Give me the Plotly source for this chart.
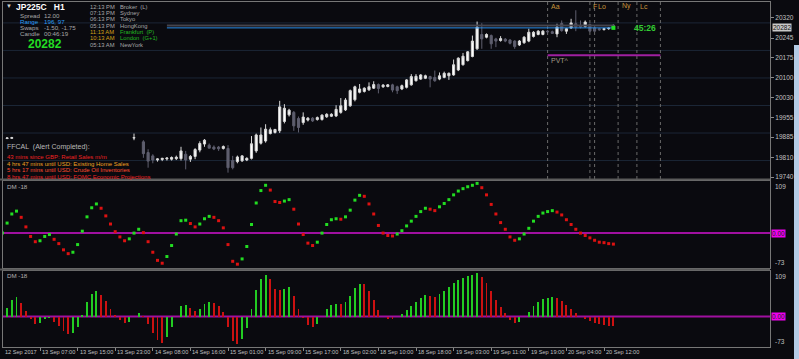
import plotly.graph_objects as go

W, H = 799, 359
ML, MR, MT, MB = 3, 29, 2, 12
PW = W - ML - MR
PH = H - MT - MB
X0, DX = 2.4, 4.7   # pixel of bar 0 and bar spacing


def px(x):
    return (x - ML) / PW


def py(y):
    return (H - MB - y) / PH


BG = "#0a0a0f"
FONT = "Liberation Sans"

# ---------------- data ----------------
tick_labels = ["12 Sep 2017", "13 Sep 07:00", "13 Sep 15:00", "13 Sep 23:00", "14 Sep 08:00",
               "14 Sep 16:00", "15 Sep 01:00", "15 Sep 09:00", "15 Sep 17:00", "18 Sep 02:00",
               "18 Sep 10:00", "18 Sep 18:00", "19 Sep 03:00", "19 Sep 11:00", "19 Sep 19:00",
               "20 Sep 04:00", "20 Sep 12:00"]
tick_step = 8

N = None
ohlc = [
    (N, N, N, N), (19880, 19884, 19878, 19882), (19881, 19886, 19879, 19883),
] + [(N, N, N, N)] * 25 + [
    (19882, 19898, 19874, 19883), (N, N, N, N),
    (19868, 19874, 19810, 19825), (19829, 19841, 19774, 19798), (19817, 19823, 19790, 19802),
    (19802, 19808, 19796, 19806), (19804, 19810, 19798, 19808), (19806, 19812, 19800, 19809),
    (19805, 19815, 19800, 19811), (19807, 19818, 19802, 19812), (19807, 19850, 19800, 19835),
    (19823, 19835, 19768, 19802), (19805, 19820, 19795, 19815), (19815, 19845, 19805, 19840),
    (19838, 19870, 19830, 19862), (19860, 19878, 19850, 19874), (19856, 19862, 19848, 19845),
    (19849, 19855, 19838, 19842), (19849, 19853, 19835, 19843), (19844, 19855, 19840, 19851),
    (19844, 19856, 19756, 19774), (19800, 19817, 19768, 19774), (19796, 19818, 19790, 19813),
    (19799, 19820, 19795, 19817), (19802, 19812, 19798, 19808), (19808, 19889, 19804, 19861),
    (19835, 19898, 19828, 19893), (19863, 19920, 19858, 19893), (19871, 19932, 19865, 19914),
    (19898, 19920, 19895, 19912), (19902, 19915, 19898, 19913), (19908, 20017, 19900, 19995),
    (19942, 20005, 19935, 19990), (19966, 19988, 19960, 19983), (19975, 19980, 19908, 19926),
    (19953, 19960, 19902, 19920), (19938, 19975, 19930, 19958), (19947, 19958, 19942, 19954),
    (19954, 19958, 19940, 19944), (19949, 19960, 19945, 19956), (19949, 19968, 19945, 19965),
    (19959, 19972, 19955, 19968), (19961, 19972, 19958, 19968), (19962, 20001, 19958, 19986),
    (19975, 20027, 19970, 19999), (19984, 20027, 19980, 20020), (19999, 20058, 19995, 20054),
    (20021, 20072, 20015, 20068), (20048, 20078, 20044, 20060), (20051, 20066, 20047, 20063),
    (20057, 20084, 20053, 20068), (20063, 20088, 20060, 20076), (20076, 20080, 20044, 20062),
    (20068, 20078, 20064, 20074), (20069, 20078, 20066, 20075), (20075, 20079, 20048, 20056),
    (20068, 20072, 20042, 20054), (20060, 20076, 20056, 20072), (20066, 20096, 20062, 20093),
    (20075, 20114, 20072, 20105), (20090, 20114, 20087, 20106), (20096, 20114, 20093, 20111),
    (20099, 20112, 20096, 20108), (20105, 20108, 20066, 20096), (20102, 20127, 20086, 20090),
    (20096, 20120, 20092, 20108), (20102, 20123, 20099, 20117), (20108, 20120, 20093, 20117),
    (20111, 20167, 20108, 20148), (20129, 20175, 20125, 20172), (20148, 20191, 20145, 20179),
    (20163, 20198, 20160, 20195), (20178, 20254, 20175, 20234), (20206, 20305, 20202, 20285),
    (20258, 20299, 20206, 20242), (20248, 20262, 20244, 20258), (20254, 20258, 20206, 20224),
    (20242, 20246, 20212, 20234), (20236, 20252, 20232, 20243), (20241, 20245, 20230, 20234),
    (20238, 20241, 20222, 20226), (20234, 20237, 20206, 20214), (20220, 20238, 20216, 20234),
    (20228, 20252, 20224, 20248), (20234, 20279, 20230, 20266), (20251, 20270, 20247, 20266),
    (20258, 20274, 20255, 20270), (20258, 20274, 20255, 20270), (20270, 20275, 20262, 20268),
    (20268, 20272, 20260, 20262), (20260, 20297, 20248, 20285), (20298, 20309, 20268, 20272),
    (20270, 20282, 20260, 20279), (20282, 20315, 20278, 20300), (20297, 20346, 20270, 20285),
    (20291, 20309, 20280, 20285), (20287, 20309, 20283, 20303), (20294, 20298, 20266, 20270),
    (20282, 20285, 20268, 20270), (20279, 20282, 20272, 20275), (20276, 20282, 20272, 20279),
    (20279, 20284, 20275, 20281), (20292, 20296, 20280, 20282),
]
bar_open = [r[0] for r in ohlc]
bar_high = [r[1] for r in ohlc]
bar_low = [r[2] for r in ohlc]
bar_close = [r[3] for r in ohlc]
bars = list(range(len(ohlc)))

dm_line = [0, 21, 40, 46, 33, 13, -7, -18, -16, -7, -3, -13, -22, -35, -43, -40, -24, 4, 34, 53,
           61, 52, 36, 19, 3, -8, -16, -12, 0, 8, 1, -18, -40, -57, -63, -49, -26, -2, 26, 27,
           20, 13, 19, 30, 35, 33, 26, 11, -24, -59, -65, -54, -28, 18, 63, 89, 100, 90, 66, 64,
           67, 70, 50, 19, -3, -21, -26, -19, 0, 18, 28, 30, 29, 34, 48, 69, 79, 77, 61, 40,
           16, 0, -5, -6, -2, 5, 15, 25, 35, 45, 52, 50, 47, 55, 62, 70, 80, 88, 93, 97,
           100, 104, 95, 80, 60, 40, 22, 8, -8, -15, -12, -2, 10, 25, 35, 42, 45, 47, 44, 38,
           28, 18, 8, 0, -5, -10, -15, -19, -20, -22, -23]
dm_hist = [0, 21, 40, 46, 33, 13, -7, -18, -16, -7, -3, -13, -22, -35, -43, -40, -24, 4, 34, 53,
           61, 52, 36, 19, 3, -8, -16, -12, 0, 8, 1, -18, -40, -57, -63, -49, -26, -2, 26, 27,
           20, 13, 19, 30, 35, 33, 26, 11, -24, -59, -65, -54, -28, 18, 63, 89, 100, 90, 66, 64,
           67, 70, 50, 19, -3, -21, -26, -19, 0, 18, 28, 30, 29, 34, 48, 69, 79, 77, 61, 40,
           16, 0, -5, -6, -2, 5, 15, 25, 35, 45, 52, 50, 47, 55, 62, 70, 80, 88, 93, 97,
           100, 104, 95, 80, 60, 40, 22, 8, -8, -15, -12, -2, 10, 25, 35, 42, 45, 47, 44, 38,
           28, 18, 8, 0, -5, -10, -15, -19, -20, -22, -23]

price_ticks = [20320, 20245, 20175, 20100, 20030, 19955, 19885, 19810, 19740]
grid_levels = [20300, 20200, 20100, 20000, 19900, 19800]
bid_price = 20282
upper_line_price = 20291
lines_start_bar = 35
pivot_price = 20183
session_bars = [116, 125, 126, 131, 135, 140]
session_names = ["Aa", "F", "Lo", "Ny", "Lc", ""]
dm_max, dm_min = 109, -73

# ---------------- figure ----------------
fig = go.Figure()

fig.add_trace(go.Candlestick(
    x=bars, open=bar_open, high=bar_high, low=bar_low, close=bar_close,
    increasing=dict(line=dict(color="#d8d8d8", width=1), fillcolor="#ffffff"),
    decreasing=dict(line=dict(color="#5e5e6e", width=1), fillcolor="#5e5e6e"),
    whiskerwidth=0, xaxis="x", yaxis="y", hoverinfo="skip", showlegend=False))

last = len(bars) - 1
fig.add_trace(go.Scatter(x=[lines_start_bar, last], y=[upper_line_price] * 2, mode="lines",
                         line=dict(color="#45454f", width=2), xaxis="x", yaxis="y", showlegend=False))
fig.add_trace(go.Scatter(x=[lines_start_bar, last], y=[bid_price] * 2, mode="lines",
                         line=dict(color="#2a8ee8", width=1), xaxis="x", yaxis="y", showlegend=False))
fig.add_trace(go.Scatter(x=[last], y=[bid_price], mode="markers",
                         marker=dict(color="#22dd22", size=4, symbol="square"),
                         xaxis="x", yaxis="y", showlegend=False))

fig.add_trace(go.Scatter(x=[session_bars[0], session_bars[-1]], y=[pivot_price] * 2, mode="lines",
                         line=dict(color="#a020a0", width=2), xaxis="x", yaxis="y", showlegend=False))

dot_colors = ["#22dd22"] + ["#22dd22" if dm_line[i] >= dm_line[i - 1] else "#dd1111"
                            for i in range(1, len(dm_line))]
fig.add_trace(go.Scatter(x=bars[:len(dm_line)], y=dm_line, mode="markers",
                         marker=dict(color=dot_colors, size=3, symbol="square"),
                         xaxis="x2", yaxis="y2", showlegend=False))

hist_colors = ["#22cc22"] + ["#22cc22" if dm_hist[i] >= dm_hist[i - 1] else "#cc1111"
                             for i in range(1, len(dm_hist))]
fig.add_trace(go.Bar(x=bars[:len(dm_hist)], y=dm_hist, marker=dict(color=hist_colors, line=dict(width=0)),
                     width=0.4, xaxis="x3", yaxis="y3", showlegend=False))

shapes = []
for g in grid_levels:
    shapes.append(dict(type="line", xref="x domain", yref="y", x0=0, x1=1, y0=g, y1=g,
                       line=dict(color="#1b2636", width=1), layer="below"))
for b in session_bars:
    shapes.append(dict(type="line", xref="x", yref="y domain", x0=b, x1=b, y0=0, y1=1,
                       line=dict(color="#6a6a6a", width=1, dash="dot"), layer="below"))
for ya in ["y2", "y3"]:
    shapes.append(dict(type="line", xref="x domain", yref=ya, x0=0, x1=1, y0=0, y1=0,
                       line=dict(color="#a010a0", width=2), layer="below"))
for yy in [179.5, 269.5]:
    shapes.append(dict(type="line", xref="paper", yref="paper", x0=px(0), x1=px(770), y0=py(yy), y1=py(yy),
                       line=dict(color="#5a5a5a", width=2)))
shapes.append(dict(type="rect", xref="paper", yref="paper", x0=px(794), x1=px(799), y0=py(359), y1=py(45),
                   fillcolor="#b4cce6", line=dict(width=0)))

ann = []


def txt(x, y, s, color="#b0b0b0", size=6.5, bold=False, xanchor="left", bg=None):
    if bold:
        s = "<b>" + s + "</b>"
    d = dict(xref="paper", yref="paper", x=px(x), y=py(y), text=s, showarrow=False,
             xanchor=xanchor, yanchor="middle", font=dict(color=color, size=size, family=FONT))
    if bg:
        d["bgcolor"] = bg
        d["borderpad"] = 0
    ann.append(d)


txt(4, 6, "▼", "#d0d0d0", 6)
txt(14, 7, "JP225C   H1", "#ffffff", 8.5, True)
left_labels = ["Spread", "Range", "Swaps", "Candle"]
left_values = ["12.00", "196, 97", "-1.50, -1.75", "00:46:19"]
left_colors = ["#a8a8a8", "#2a9df4", "#a8a8a8", "#a8a8a8"]
for i, (a, b, c) in enumerate(zip(left_labels, left_values, left_colors)):
    yy = 15.5 + i * 6
    txt(18, yy, a, c, 6.2)
    txt(42, yy, b, c, 6.2)
txt(26, 44, "20282", "#22dd22", 12, True)

clock_times = ["12:13 PM", "07:13 PM", "06:13 PM", "05:13 PM", "11:13 AM", "10:13 AM", "05:13 AM"]
clock_names = ["Broker  (L)", "Sydney", "Tokyo", "HongKong", "Frankfurt  (P)", "London  (G+1)", "NewYork"]
for i, (t, n) in enumerate(zip(clock_times, clock_names)):
    yy = 6.5 + i * 6.4
    hot = i in (4, 5)
    txt(88, yy, t, "#d4a017" if hot else "#a8a8a8", 5.8)
    txt(118, yy, n, "#22bb22" if hot else "#a8a8a8", 5.8)

txt(5, 147, "FFCAL  (Alert Completed):", "#b8b8b8", 7)
ff_lines = ["43 mins since GBP: Retail Sales m/m",
            "4 hrs 47 mins until USD: Existing Home Sales",
            "5 hrs 17 mins until USD: Crude Oil Inventories",
            "8 hrs 47 mins until USD: FOMC Economic Projections"]
ff_colors = ["#ee2222", "#f0a020", "#ff4a30", "#ee2222"]
for i, (s, c) in enumerate(zip(ff_lines, ff_colors)):
    txt(5, 157 + i * 6.7, s, c, 6)

txt(5, 186, "DM -18", "#b0b0b0", 6.2)
txt(5, 275, "DM -18", "#b0b0b0", 6.2)

for b, n in zip(session_bars, session_names):
    if n:
        ann.append(dict(xref="x", yref="paper", x=b + 0.3, y=py(6), text=n, showarrow=False,
                        xanchor="left", yanchor="middle",
                        font=dict(color="#c8943a", size=7, family=FONT)))
ann.append(dict(xref="x", yref="y", x=session_bars[0] + 0.3, y=pivot_price, text="PVT^", showarrow=False,
                xanchor="left", yanchor="top", font=dict(color="#a09a88", size=7, family=FONT)))
ann.append(dict(xref="x", yref="y", x=134, y=bid_price, text="<b>45:26</b>", showarrow=False,
                xanchor="left", yanchor="middle", font=dict(color="#33cc33", size=8.5, family=FONT)))

ann.append(dict(xref="paper", yref="y", x=1.0, y=bid_price, text=str(bid_price), showarrow=False,
                xanchor="left", yanchor="middle", xshift=2, bgcolor="#c8c8c8", borderpad=0,
                font=dict(color="#101010", size=6.5, family=FONT)))

for ya in ["y2", "y3"]:
    ann.append(dict(xref="paper", yref=ya, x=1.0, y=dm_max, text=str(dm_max), showarrow=False, xanchor="left",
                    yanchor="top", xshift=3, font=dict(color="#c0c0c0", size=6.5, family=FONT)))
    ann.append(dict(xref="paper", yref=ya, x=1.0, y=0, text="0.00", showarrow=False, xanchor="left",
                    yanchor="middle", xshift=1, bgcolor="#ee00ee", borderpad=0,
                    font=dict(color="#202020", size=6.5, family=FONT)))
    ann.append(dict(xref="paper", yref=ya, x=1.0, y=dm_min, text=str(dm_min), showarrow=False, xanchor="left",
                    yanchor="bottom", xshift=3, font=dict(color="#c0c0c0", size=6.5, family=FONT)))

tick_pos = [i * tick_step for i in range(len(tick_labels))]
for p, lab in zip(tick_pos, tick_labels):
    ann.append(dict(xref="paper", yref="paper", x=max(px(X0 + DX * p), px(ML)), y=py(352), text=lab,
                    showarrow=False, xanchor="left", yanchor="middle",
                    font=dict(color="#c0c0c0", size=5.6, family=FONT)))

xr = [(ML - X0) / DX, (W - MR - X0) / DX]
axis_common = dict(range=xr, showgrid=False, zeroline=False, showline=True, mirror=True,
                   linecolor="#777777", linewidth=1, fixedrange=True)

fig.update_layout(
    width=W, height=H, margin=dict(l=ML, r=MR, t=MT, b=MB),
    paper_bgcolor=BG, plot_bgcolor=BG, showlegend=False, boxgap=0.35, bargap=0,
    xaxis=dict(domain=[0, 1], anchor="y", showticklabels=False, ticks="", rangeslider=dict(visible=False),
               **axis_common),
    xaxis2=dict(domain=[0, 1], anchor="y2", showticklabels=False, ticks="", matches="x", **axis_common),
    xaxis3=dict(domain=[0, 1], anchor="y3", showticklabels=False, ticks="outside", ticklen=3,
                tickcolor="#888888", tickvals=tick_pos, matches="x", **axis_common),
    yaxis=dict(domain=[py(179), 1], side="right", range=[19733, 20376], tickvals=price_ticks,
               ticktext=[str(v) for v in price_ticks],
               ticks="outside", ticklen=3, tickcolor="#888888", showgrid=False, zeroline=False,
               showline=True, mirror=True, linecolor="#777777",
               tickfont=dict(color="#c0c0c0", size=6.5, family=FONT)),
    yaxis2=dict(domain=[py(268), py(181)], side="right", range=[dm_min, dm_max], showticklabels=False,
                ticks="", showgrid=False, zeroline=False, showline=True, mirror=True, linecolor="#777777"),
    yaxis3=dict(domain=[0, py(271)], side="right", range=[dm_min, dm_max], showticklabels=False,
                ticks="", showgrid=False, zeroline=False, showline=True, mirror=True, linecolor="#777777"),
    shapes=shapes, annotations=ann,
)

fig.write_html("out.html", config={"displayModeBar": False, "staticPlot": True},
               post_script="document.body.style.margin='0';document.body.style.overflow='hidden';"
                           "document.body.style.background='" + BG + "';")
